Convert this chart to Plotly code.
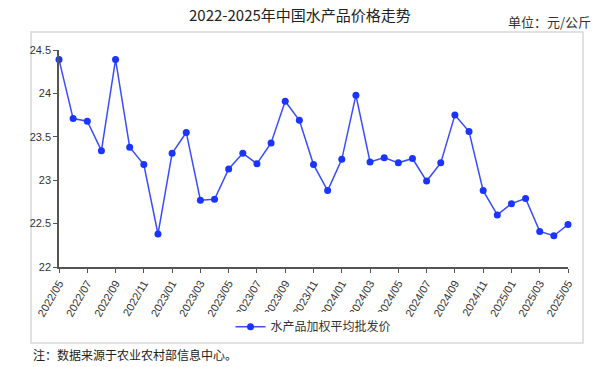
import plotly.graph_objects as go

months = ["2022/05","2022/06","2022/07","2022/08","2022/09","2022/10","2022/11","2022/12",
          "2023/01","2023/02","2023/03","2023/04","2023/05","2023/06","2023/07","2023/08",
          "2023/09","2023/10","2023/11","2023/12","2024/01","2024/02","2024/03","2024/04",
          "2024/05","2024/06","2024/07","2024/08","2024/09","2024/10","2024/11","2024/12",
          "2025/01","2025/02","2025/03","2025/04","2025/05"]
prices = [24.39, 23.71, 23.68, 23.34, 24.39, 23.38, 23.18, 22.38,
          23.31, 23.55, 22.77, 22.78, 23.13, 23.31, 23.19, 23.43,
          23.91, 23.69, 23.18, 22.88, 23.24, 23.98, 23.21, 23.26,
          23.20, 23.25, 22.99, 23.20, 23.75, 23.56, 22.88, 22.60,
          22.73, 22.79, 22.41, 22.36, 22.49]
tick_labels = months[::2]
y_ticks = [22, 22.5, 23, 23.5, 24, 24.5]
y_tick_text = ["22", "22.5", "23", "23.5", "24", "24.5"]
series_name = "水产品加权平均批发价"

cjk = "Noto Sans CJK SC"
lat = "Liberation Sans, Noto Sans CJK SC"

fig = go.Figure()
fig.add_trace(go.Scatter(
    x=months, y=prices, mode="lines+markers", name=series_name,
    line=dict(color="#3a4ef7", width=1.5),
    marker=dict(color="#1a35ff", size=7),
    cliponaxis=False,
))

L, R, T, B = 59, 568, 50, 267
fig.update_layout(
    width=615, height=367,
    margin=dict(l=L, r=615 - R, t=T, b=367 - B),
    paper_bgcolor="white", plot_bgcolor="white",
    showlegend=True,
    legend=dict(orientation="h", x=0.5, xanchor="center", y=-0.275, yanchor="middle",
                font=dict(family=cjk, size=12, color="#333"), itemwidth=30),
    xaxis=dict(type="category", range=[0, len(months) - 1],
               tickmode="array", tickvals=tick_labels, ticktext=tick_labels,
               tickangle=-60, ticks="outside", ticklen=4, tickcolor="#555",
               showline=True, linecolor="#555", linewidth=1.5, showgrid=False,
               zeroline=False, tickfont=dict(family=lat, size=11, color="#333")),
    yaxis=dict(range=[22, 24.5], tickmode="array", tickvals=y_ticks, ticktext=y_tick_text,
               ticks="outside", ticklen=4, tickcolor="#555",
               showline=True, linecolor="#555", linewidth=1.5, showgrid=False,
               zeroline=False, tickfont=dict(family=lat, size=11, color="#333")),
)

def px_x(p):
    return (p - L) / (R - L)

def px_y(p):
    return (B - p) / (B - T)

fig.add_shape(type="rect", xref="paper", yref="paper",
              x0=px_x(31), x1=px_x(583), y0=px_y(343), y1=px_y(32),
              line=dict(color="#d8d8d8", width=1.5), fillcolor="rgba(0,0,0,0)", layer="below")

fig.add_annotation(text="2022-2025年中国水产品价格走势", xref="paper", yref="paper",
                   x=px_x(300), y=px_y(15), xanchor="center", yanchor="middle",
                   showarrow=False, font=dict(family=cjk, size=15, color="#222"))
fig.add_annotation(text="单位：元/公斤", xref="paper", yref="paper",
                   x=px_x(593), y=px_y(21), xanchor="right", yanchor="middle",
                   showarrow=False, font=dict(family=cjk, size=13, color="#333"))
fig.add_annotation(text="注：数据来源于农业农村部信息中心。", xref="paper", yref="paper",
                   x=px_x(31), y=px_y(354), xanchor="left", yanchor="middle",
                   showarrow=False, font=dict(family=cjk, size=12, color="#222"))

fig.write_html("out.html", config={"displayModeBar": False},
               post_script="document.body.style.margin='0';")
